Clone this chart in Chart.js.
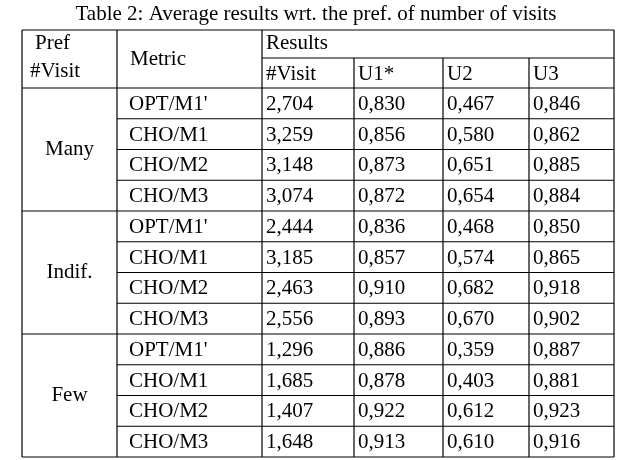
<!DOCTYPE html>
<html>
<head>
<meta charset="utf-8">
<script src="https://cdn.jsdelivr.net/npm/chart.js@4"></script>
<style>
  html, body { margin: 0; padding: 0; background: #fff; }
  #wrap { width: 636px; height: 460px; position: relative; }
</style>
</head>
<body>
<div id="wrap"><canvas id="tbl"></canvas></div>
<script>
const groups = ['Many', 'Indif.', 'Few'];
const metrics = ["OPT/M1'", 'CHO/M1', 'CHO/M2', 'CHO/M3'];
const visits = ['2,704', '3,259', '3,148', '3,074', '2,444', '3,185', '2,463', '2,556', '1,296', '1,685', '1,407', '1,648'];
const u1 = ['0,830', '0,856', '0,873', '0,872', '0,836', '0,857', '0,910', '0,893', '0,886', '0,878', '0,922', '0,913'];
const u2 = ['0,467', '0,580', '0,651', '0,654', '0,468', '0,574', '0,682', '0,670', '0,359', '0,403', '0,612', '0,610'];
const u3 = ['0,846', '0,862', '0,885', '0,884', '0,850', '0,865', '0,918', '0,902', '0,887', '0,881', '0,923', '0,916'];
const resultHeads = ['#Visit', 'U1*', 'U2', 'U3'];

// layout (table units, 1 unit = 1px at this size)
const colEdges = [0, 95, 240, 332, 421, 507, 592];
const headRows = [0, 28, 58];
const rowH = 30.75;
const font = '21px "Liberation Serif", "DejaVu Serif", serif';

const tablePlugin = {
  id: 'table',
  afterDraw(chart) {
    const ctx = chart.ctx;
    const xs = chart.scales.x, ys = chart.scales.y;
    const X = v => xs.getPixelForValue(v);
    const Y = v => ys.getPixelForValue(v);
    const rowTop = i => headRows[2] + i * rowH;
    const nRows = visits.length;
    const bottom = rowTop(nRows);
    ctx.save();
    ctx.strokeStyle = '#000';
    ctx.fillStyle = '#000';
    ctx.lineWidth = 1.2;
    const line = (x1, y1, x2, y2) => {
      ctx.beginPath(); ctx.moveTo(X(x1), Y(y1)); ctx.lineTo(X(x2), Y(y2)); ctx.stroke();
    };
    // verticals
    colEdges.forEach((c, i) => {
      if (i >= 3 && i <= 5) line(c, headRows[1], c, bottom);
      else line(c, 0, c, bottom);
    });
    // horizontals
    line(0, 0, colEdges[6], 0);
    line(colEdges[2], headRows[1], colEdges[6], headRows[1]);
    line(0, headRows[2], colEdges[6], headRows[2]);
    for (let i = 1; i <= nRows; i++) {
      const x0 = (i % metrics.length === 0) ? 0 : colEdges[1];
      line(x0, rowTop(i), colEdges[6], rowTop(i));
    }
    // text
    ctx.font = font;
    ctx.textBaseline = 'middle';
    ctx.textAlign = 'left';
    const put = (t, x, y) => ctx.fillText(t, X(x), Y(y));
    put('Pref', 13, 13);
    put('#Visit', 8, 41);
    put('Metric', colEdges[1] + 13, 29);
    put('Results', colEdges[2] + 4, 13);
    resultHeads.forEach((h, j) => put(h, colEdges[2 + j] + 4, 44));
    groups.forEach((g, gi) => {
      ctx.textAlign = 'center';
      put(g, colEdges[1] / 2, rowTop(gi * metrics.length) + rowH * metrics.length / 2);
      ctx.textAlign = 'left';
    });
    for (let i = 0; i < nRows; i++) {
      const yc = rowTop(i) + rowH / 2 + 1;
      put(metrics[i % metrics.length], colEdges[1] + 12, yc);
      [visits, u1, u2, u3].forEach((arr, j) => put(arr[i], colEdges[2 + j] + 4, yc));
    }
    // caption
    ctx.textAlign = 'center';
    ctx.textBaseline = 'alphabetic';
    ctx.fillText('Table 2: Average results wrt. the pref. of number of visits', chart.width / 2 - 2, 20);
    ctx.restore();
  }
};

new Chart(document.getElementById('tbl'), {
  type: 'scatter',
  data: { datasets: [{ data: [] }] },
  options: {
    responsive: true,
    maintainAspectRatio: false,
    animation: false,
    layout: { padding: { left: 22, right: 22, top: 30, bottom: 3 } },
    plugins: { legend: { display: false }, tooltip: { enabled: false } },
    scales: {
      x: { display: false, min: 0, max: 592 },
      y: { display: false, min: 0, max: 427, reverse: true }
    }
  },
  plugins: [tablePlugin]
});
</script>
</body>
</html>
